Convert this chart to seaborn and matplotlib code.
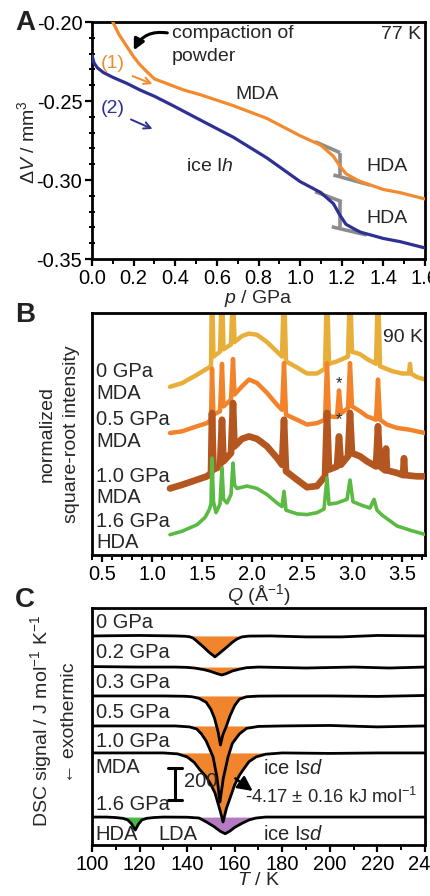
import numpy as np
import pandas as pd
import matplotlib
matplotlib.use("Agg")
import matplotlib.pyplot as plt
import seaborn as sns
from matplotlib.ticker import MultipleLocator, FormatStrFormatter

# ---------------- Panel A data: piston displacement at 77 K ----------------
pA_mda = [0.10, 0.13, 0.17, 0.20, 0.23, 0.26, 0.30, 0.36, 0.44, 0.52, 0.68, 0.84,
          1.00, 1.10, 1.16, 1.19, 1.22, 1.26, 1.29, 1.40, 1.48, 1.60]
dV_mda = [-0.200, -0.208, -0.216, -0.222, -0.227, -0.231, -0.236, -0.239, -0.243,
          -0.246, -0.253, -0.261, -0.272, -0.278, -0.285, -0.291, -0.296, -0.299,
          -0.301, -0.306, -0.308, -0.312]
pA_ice = [0.00, 0.01, 0.026, 0.055, 0.10, 0.17, 0.23, 0.30, 0.39, 0.52, 0.68, 0.84,
          1.00, 1.10, 1.16, 1.19, 1.22, 1.26, 1.29, 1.40, 1.48, 1.60]
dV_ice = [-0.221, -0.226, -0.229, -0.232, -0.235, -0.239, -0.243, -0.247, -0.253,
          -0.262, -0.273, -0.286, -0.301, -0.308, -0.315, -0.322, -0.328, -0.331,
          -0.333, -0.337, -0.339, -0.343]
# grey construction lines (tangents + step) for the transitions
grey_p = [[1.072, 1.192], [1.19, 1.19], [1.16, 1.336],
          [1.072, 1.20], [1.19, 1.19], [1.152, 1.32]]
grey_v = [[-0.2758, -0.2827], [-0.2827, -0.2968], [-0.2968, -0.3032],
          [-0.3074, -0.3137], [-0.3137, -0.3296], [-0.3296, -0.3348]]

# ---------------- Panel B data: X-ray diffraction at 90 K ----------------
Q_0 = [1.18, 1.30, 1.45, 1.55, 1.59, 1.60, 1.615, 1.68, 1.70, 1.715, 1.79, 1.81, 1.825,
       1.90, 1.97, 2.05, 2.15, 2.25, 2.30, 2.32, 2.34, 2.45, 2.55, 2.65, 2.73, 2.75,
       2.77, 2.85, 2.96, 2.98, 3.00, 3.08, 3.15, 3.24, 3.26, 3.28, 3.40, 3.50, 3.57,
       3.58, 3.59, 3.65, 3.73]
I_0 = [69.5, 71, 74.5, 77, 78, 112, 82, 84, 112, 85, 87, 112, 88, 90.5, 91.5, 91,
       88, 84, 82, 112, 80, 77.5, 75, 75, 77, 112, 79, 80, 82, 112, 84, 83, 81, 79,
       112, 78, 76, 75, 75, 79, 75, 73.5, 72.5]
Q_05 = [1.18, 1.30, 1.45, 1.55, 1.59, 1.60, 1.615, 1.68, 1.70, 1.715, 1.79, 1.81, 1.825,
        1.90, 1.97, 2.05, 2.15, 2.25, 2.30, 2.32, 2.34, 2.45, 2.55, 2.65, 2.73, 2.75,
        2.77, 2.85, 2.87, 2.89, 2.96, 2.98, 3.00, 3.08, 3.15, 3.24, 3.26, 3.28, 3.35,
        3.45, 3.57, 3.65, 3.73]
I_05 = [50.4, 51.1, 53.2, 54.5, 55.9, 77, 58, 59.4, 79, 61.4, 64.2, 81, 66.3, 69.7,
        72.5, 71.1, 67, 62.1, 60, 79.3, 58, 55.9, 53.9, 54.5, 55.9, 79.3, 57.3, 57,
        68, 58.5, 60.7, 79.3, 61.4, 59.4, 57.3, 55.9, 72.5, 55.9, 53.9, 52.5, 51.8,
        51.1, 50.4]
Q_10 = [1.18, 1.30, 1.45, 1.55, 1.59, 1.60, 1.615, 1.68, 1.70, 1.715, 1.79, 1.81, 1.825,
        1.90, 1.97, 2.05, 2.15, 2.25, 2.30, 2.32, 2.34, 2.45, 2.55, 2.65, 2.73, 2.75,
        2.77, 2.85, 2.87, 2.89, 2.96, 2.98, 3.00, 3.08, 3.15, 3.24, 3.26, 3.28, 3.33,
        3.34, 3.35, 3.45, 3.51, 3.52, 3.53, 3.65, 3.73]
I_10 = [27.5, 29, 31.1, 32.5, 33.9, 58.7, 35.3, 36.6, 55.9, 38.7, 42.1, 62.8, 44.9,
        48, 49, 48, 44.9, 40.1, 37.3, 55.9, 34.6, 31.1, 28, 28.5, 32.5, 58.7, 35.3,
        36.6, 49, 37.3, 40.8, 58.7, 42.1, 40.8, 38.7, 36.6, 53.2, 36.6, 35, 44, 35,
        33.9, 33, 40, 33, 32.5, 32.5]
Q_16 = [1.18, 1.30, 1.45, 1.53, 1.57, 1.59, 1.60, 1.615, 1.64, 1.68, 1.70, 1.715, 1.75,
        1.79, 1.81, 1.825, 1.85, 1.95, 2.05, 2.15, 2.25, 2.30, 2.32, 2.34, 2.45, 2.55,
        2.65, 2.72, 2.75, 2.77, 2.85, 2.95, 2.98, 3.01, 3.10, 3.18, 3.22, 3.25, 3.30,
        3.45, 3.60, 3.73]
I_16 = [8.4, 9.8, 12.5, 15.5, 18.5, 21, 40, 22, 17.5, 21, 36, 23, 21.5, 25, 38, 29,
        27.5, 28.5, 27.5, 25, 21.5, 20, 26.3, 18.5, 17, 16.7, 17.5, 19, 31.8, 21,
        21.5, 23, 31, 22, 20.5, 19.4, 23, 18.5, 16.5, 12, 10, 8.5]
xrd_labels = [("0 GPa", "MDA"), ("0.5 GPa", "MDA"), ("1.0 GPa", "MDA"), ("1.6 GPa", "HDA")]

# ---------------- Panel C data: DSC scans (signal in J mol-1 K-1) ----------------
dsc_labels = ["0 GPa", "0.2 GPa", "0.3 GPa", "0.5 GPa", "1.0 GPa", "1.6 GPa"]
dsc_offset = [1317, 1121, 939, 750, 580, 176]
T_00 = [100, 120, 135, 139, 141, 142.5, 144, 146.7, 149, 151.7, 154, 156.7, 159, 161,
        163, 166, 175, 190, 205, 220, 240]
S_00 = [0, 3, 0, -2, -5, -13, -32, -67, -100, -132, -104, -70, -40, -19, -6, -1, 0,
        -6, -6, 3, 0]
T_02 = [100, 120, 135, 140, 143, 147, 150, 152.5, 154.6, 156.5, 159, 162, 165, 170,
        190, 210, 225, 240]
S_02 = [3, 0, 0, -2, -6, -16, -28, -41, -50, -41, -25, -13, -4, 0, -6, 0, -6, 0]
T_03 = [100, 130, 139, 142, 145, 148, 150, 151.5, 153, 154, 155, 156.5, 158, 160, 162,
        165, 170, 180, 200, 220, 240]
S_03 = [0, 0, -2, -5, -15, -40, -85, -140, -225, -309, -245, -190, -126, -60, -20,
        -5, -1, 0, 0, -3, 3]
T_05 = [100, 135, 141, 144, 146, 148, 150.9, 152.5, 153.8, 155.2, 157.2, 159, 162,
        165, 170, 180, 200, 220, 240]
S_05 = [0, 0, -6, -19, -50, -95, -195, -320, -479, -330, -195, -110, -50, -15, -3,
        0, 3, -6, 0]
T_10 = [100, 130, 136, 140, 143, 145.4, 148, 150, 151.7, 153.8, 155.1, 156.5, 158.8,
        160, 162, 163.5, 166, 169, 173, 180, 200, 220, 240]
S_10 = [0, 0, -6, -25, -60, -107, -150, -200, -252, -360, -435, -350, -252, -200,
        -140, -107, -55, -25, -8, 0, -3, 0, 0]
T_16 = [100, 106, 110, 113, 115, 116.5, 118.2, 119.5, 121, 123, 126, 130, 140, 145,
        148, 151, 154, 156, 158, 160, 163, 166, 169, 173, 200, 240]
S_16 = [0, 0, -3, -8, -18, -40, -82, -45, -18, -8, -3, 0, -1, -6, -30, -57, -90,
        -105, -88, -65, -40, -18, -6, 0, 0, 0]
# transition regions (K) that are shaded
fill_ranges = [[(139, 166, "MDA")], [(140, 170, "MDA")], [(139, 170, "MDA")],
               [(141, 170, "MDA")], [(136, 180, "MDA")],
               [(110, 126, "HDA"), (143, 173, "LDA")]]

# ---------------- style ----------------
sns.set_theme(style="ticks")
plt.rcParams["font.family"] = ["Liberation Sans", "DejaVu Sans"]
plt.rcParams["mathtext.fontset"] = "custom"
plt.rcParams["mathtext.rm"] = "Liberation Sans"
plt.rcParams["mathtext.it"] = "Liberation Sans:italic"
plt.rcParams["mathtext.bf"] = "Liberation Sans:bold"
plt.rcParams["axes.unicode_minus"] = False
plt.rcParams["axes.linewidth"] = 2.0

ORANGE = "#F28A2E"
NAVY = "#2E3192"
GREY = "#8C8C8C"
B_COLS = ["#E7AE3A", "#F2832A", "#B4561F", "#5BBA43"]
FILL = {"MDA": "#F0852D", "HDA": "#4DB848", "LDA": "#B57BC0"}
FS_TICK = 14.5
FS_TXT = 14

W, H = 431, 896
fig = plt.figure(figsize=(W / 100, H / 100), dpi=100)


def ax_at(left, top, right, bottom):
    return fig.add_axes([left / W, 1 - bottom / H, (right - left) / W, (bottom - top) / H])


def style_ticks(ax):
    ax.tick_params(which="both", top=False, right=False, labelsize=FS_TICK, colors="black")
    ax.tick_params(which="major", direction="out", length=5, width=1.6, pad=2)
    ax.tick_params(which="minor", direction="out", length=3.5, width=1.4)
    for s in ax.spines.values():
        s.set_linewidth(2.0)
        s.set_color("black")


# ---------------- Panel A ----------------
axA = ax_at(92, 22, 425, 259)
for gp, gv in zip(grey_p, grey_v):
    axA.plot(gp, gv, color=GREY, lw=2.6, solid_capstyle="butt", zorder=1)
sns.lineplot(x=pA_mda, y=dV_mda, ax=axA, color=ORANGE, lw=2.3, estimator=None, zorder=3)
sns.lineplot(x=pA_ice, y=dV_ice, ax=axA, color=NAVY, lw=2.3, estimator=None, zorder=3)
axA.set_xlim(0, 1.6)
axA.set_ylim(-0.35, -0.20)
axA.set_xticks(np.arange(0, 1.61, 0.2))
axA.xaxis.set_major_formatter(FormatStrFormatter("%.1f"))
axA.xaxis.set_minor_locator(MultipleLocator(0.1))
axA.set_yticks([-0.35, -0.30, -0.25, -0.20])
axA.yaxis.set_major_formatter(FormatStrFormatter("%.2f"))
axA.yaxis.set_minor_locator(MultipleLocator(0.01))
style_ticks(axA)
axA.tick_params(axis="y", which="minor", direction="inout", length=5)
axA.set_xlabel("$p$ / GPa", fontsize=FS_TXT, labelpad=0)
axA.set_ylabel("")
axA.text(0.383, -0.2072, "compaction of", fontsize=FS_TXT, ha="left", va="center")
axA.text(0.383, -0.2220, "powder", fontsize=FS_TXT, ha="left", va="center")
axA.annotate("", xy=(0.195, -0.2195), xytext=(0.375, -0.2072),
             arrowprops=dict(arrowstyle="-|>", color="black", lw=2.2,
                             connectionstyle="arc3,rad=0.4", mutation_scale=16))
axA.text(0.101, -0.2265, "(1)", color=ORANGE, fontsize=FS_TXT, ha="center", va="center")
axA.annotate("", xy=(0.303, -0.2399), xytext=(0.183, -0.2336),
             arrowprops=dict(arrowstyle="->", color=ORANGE, lw=1.4, mutation_scale=12))
axA.text(0.101, -0.2545, "(2)", color=NAVY, fontsize=FS_TXT, ha="center", va="center")
axA.annotate("", xy=(0.303, -0.2684), xytext=(0.175, -0.2610),
             arrowprops=dict(arrowstyle="->", color=NAVY, lw=1.4, mutation_scale=12))
axA.text(0.791, -0.2462, "MDA", fontsize=FS_TXT, ha="center", va="center")
axA.text(0.567, -0.2916, "ice I$h$", fontsize=FS_TXT, ha="center", va="center")
axA.text(1.416, -0.2916, "HDA", fontsize=FS_TXT, ha="center", va="center")
axA.text(1.416, -0.3243, "HDA", fontsize=FS_TXT, ha="center", va="center")
axA.text(1.58, -0.2082, "77 K", fontsize=FS_TXT, ha="right", va="center")

# ---------------- Panel B ----------------
axB = ax_at(92, 313, 425, 555)
xrd = [(Q_0, I_0, 3.2), (Q_05, I_05, 3.2), (Q_10, I_10, 4.8), (Q_16, I_16, 2.6)]
for k, ((q, inten, lw), col) in enumerate(zip(xrd, B_COLS)):
    sns.lineplot(x=q, y=inten, ax=axB, color=col, lw=lw, estimator=None, zorder=2 + k)
axB.set_xlim(0.4, 3.73)
axB.set_ylim(0, 100)
axB.set_yticks([])
axB.set_xticks([0.5, 1.0, 1.5, 2.0, 2.5, 3.0, 3.5])
axB.xaxis.set_major_formatter(FormatStrFormatter("%.1f"))
axB.xaxis.set_minor_locator(MultipleLocator(0.1))
style_ticks(axB)
axB.set_xlabel("$Q$ (Å$^{-1}$)", fontsize=FS_TXT, labelpad=-1)
axB.set_ylabel("")
lab_y = [(75.9, 66.9), (55.9, 47.0), (32.5, 23.6), (13.9, 5.0)]
for (l1, l2), (y1, y2) in zip(xrd_labels, lab_y):
    axB.text(0.445, y1, l1, fontsize=FS_TICK, ha="left", va="center", zorder=10)
    axB.text(0.445, y2, l2, fontsize=FS_TICK, ha="left", va="center", zorder=10)
axB.text(3.715, 89.7, "90 K", fontsize=FS_TXT, ha="right", va="center", zorder=10)
axB.text(2.87, 71.0, "*", fontsize=12, ha="center", va="center", zorder=10)
axB.text(2.87, 56.0, "*", fontsize=12, ha="center", va="center", zorder=10)

# ---------------- Panel C ----------------
axC = ax_at(92, 608, 425, 845)
dsc = [(T_00, S_00), (T_02, S_02), (T_03, S_03), (T_05, S_05), (T_10, S_10), (T_16, S_16)]
for (T, S), off, fr in zip(dsc, dsc_offset, fill_ranges):
    T = np.asarray(T, float)
    y = np.asarray(S, float) + off
    for t1, t2, phase in fr:
        m = (T >= t1) & (T <= t2)
        axC.fill_between(T, off, y, where=m, color=FILL[phase], lw=0, zorder=1)
for (T, S), off in zip(dsc, dsc_offset):
    y = np.asarray(S, float) + off
    sns.lineplot(x=T, y=y, ax=axC, color="black", lw=2.0, estimator=None, zorder=3)
axC.set_xlim(100, 240)
axC.set_ylim(0, 1493)
axC.set_yticks([])
axC.set_xticks(np.arange(100, 241, 20))
axC.xaxis.set_minor_locator(MultipleLocator(10))
style_ticks(axC)
axC.set_xlabel("$T$ / K", fontsize=FS_TXT, labelpad=-1)
axC.set_ylabel("")
lab_yC = [1399, 1210, 1021, 832, 649, 252]
for lab, yy in zip(dsc_labels, lab_yC):
    axC.text(101.5, yy, lab, fontsize=FS_TICK, ha="left", va="center", zorder=5)
axC.text(101.5, 491, "MDA", fontsize=FS_TICK, ha="left", va="center")
axC.text(101.5, 63, "HDA", fontsize=FS_TICK, ha="left", va="center")
axC.text(127.9, 63, "LDA", fontsize=FS_TICK, ha="left", va="center")
axC.text(172, 485, "ice I$sd$", fontsize=FS_TICK, ha="left", va="center")
axC.text(172, 63, "ice I$sd$", fontsize=FS_TICK, ha="left", va="center")
axC.text(164.5, 302, "-4.17 ± 0.16 kJ mol$^{-1}$", fontsize=13.2, ha="left", va="center")
# 200 J mol-1 K-1 scale bar
axC.plot([134.9, 134.9], [285, 485], color="black", lw=2.2)
axC.plot([132, 138], [485, 485], color="black", lw=2.2)
axC.plot([132, 138], [285, 285], color="black", lw=2.2)
axC.text(138.6, 397, "200", fontsize=FS_TICK, ha="left", va="center")
axC.annotate("", xy=(168.5, 330), xytext=(159.3, 430),
             arrowprops=dict(arrowstyle="-|>", color="black", lw=1.8, mutation_scale=22))

# ---------------- figure-level labels ----------------
fig.text(27 / W, 1 - 142 / H, "Δ$V$ / mm$^3$", rotation=90, ha="center", va="center", fontsize=FS_TXT)
fig.text(47 / W, 1 - 434 / H, "normalized", rotation=90, ha="center", va="center", fontsize=FS_TXT)
fig.text(72 / W, 1 - 434 / H, "square-root intensity", rotation=90, ha="center", va="center", fontsize=FS_TXT)
fig.text(41 / W, 1 - 721 / H, "DSC signal / J mol$^{-1}$ K$^{-1}$", rotation=90, ha="center",
         va="center", fontsize=FS_TXT)
fig.text(70 / W, 1 - 723 / H, "← exothermic", rotation=90, ha="center", va="center", fontsize=FS_TXT)
for letter, yy in [("A", 23), ("B", 315), ("C", 600)]:
    fig.text(25 / W, 1 - yy / H, letter, fontsize=20, fontweight="bold", ha="center",
             va="center", color="#222222")

fig.savefig("out.png", dpi=100)
